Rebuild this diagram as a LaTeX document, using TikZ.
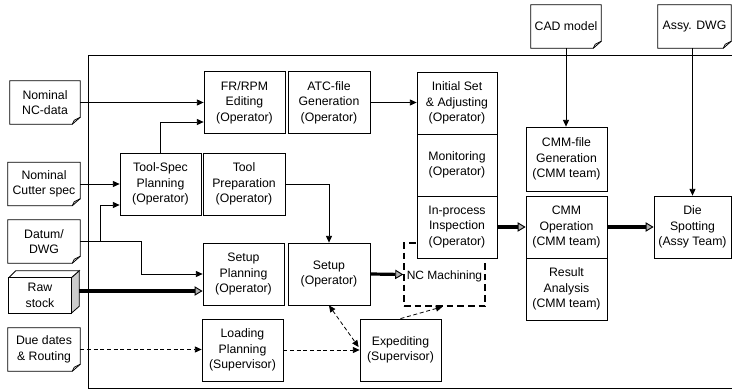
\documentclass[tikz,border=0pt]{standalone}
\usepackage{fontspec}
\setmainfont{Liberation Sans}
\usetikzlibrary{arrows.meta,calc}
\begin{document}
\begin{tikzpicture}[x=0.75pt,y=-0.75pt,
  every node/.style={font=\fontsize{9.2}{11.6}\selectfont},
  box/.style={draw, line width=0.6pt, fill=white, align=center, inner sep=0pt,
              minimum width=60.75pt, minimum height=46.5pt},
  doc/.style={align=center, inner sep=0pt, minimum width=54pt, minimum height=32.25pt},
  arr/.style={line width=0.6pt, -{Triangle[length=5pt,width=4.5pt]}},
  darr/.style={arr, dash pattern=on 3pt off 2pt},
  dbarr/.style={line width=0.6pt, dash pattern=on 3pt off 2pt,
                {Triangle[length=5pt,width=4.5pt]}-{Triangle[length=5pt,width=4.5pt]}},
  bigarr/.style={line width=2.4pt, -{Triangle[length=6pt,width=7pt,line width=0.7pt,fill=gray!60]}},
  ncbox/.style={draw, line width=1.1pt, dash pattern=on 5pt off 3pt, inner sep=0pt,
                minimum width=60.75pt, minimum height=47.25pt}
]
\useasboundingbox (0,0) rectangle (732,392);

% outer frame, open to the right
\draw[line width=0.6pt] (732,55) -- (88,55) -- (88,388) -- (732,388);

% input documents
\node[doc, minimum width=52.5pt] (ncd) at (45,102.5) {};
\node[doc] (cut) at (44,184) {};
\node[doc] (dat) at (44,241.5) {};
\node[doc] (due) at (44,349.5) {};
\node[doc, minimum width=52.5pt] (cad) at (566,26.5) {};
\node[doc, minimum width=54.75pt] (assy) at (694.5,26.5) {};
\foreach \n in {ncd,cut,dat,due,cad,assy}{
  \draw[line width=0.6pt, fill=white]
    (\n.north west) -- (\n.north east) -- ($(\n.south east)+(0,-7)$)
    -- ($(\n.south east)+(-8,0)$) -- (\n.south west) -- cycle;
  \draw[line width=0.6pt]
    ($(\n.south east)+(0,-7)$) -- ($(\n.south east)+(-6,-4)$) -- ($(\n.south east)+(-8,0)$);
}
\node[align=center] at (ncd) {Nominal\\NC-data};
\node[align=center] at (cut) {Nominal\\Cutter spec};
\node[align=center] at (dat) {Datum/\\DWG};
\node[align=center] at (due) {Due dates\\\& Routing};
\node[align=center] at (cad) {CAD model};
\node[align=center] at (assy) {Assy. DWG};

% raw stock block
\node[inner sep=0pt, minimum width=46.5pt, minimum height=26.25pt] (raw) at (40,295.5) {};
\draw[line width=0.6pt, fill=gray!40]
  (raw.north east) -- ($(raw.north east)+(8,-7)$) -- ($(raw.south east)+(8,-7)$) -- (raw.south east) -- cycle;
\draw[line width=0.6pt, fill=white]
  (raw.north west) -- ($(raw.north west)+(7,-7)$) -- ($(raw.north east)+(8,-7)$) -- (raw.north east) -- cycle;
\draw[line width=0.9pt, fill=white] (raw.north west) rectangle (raw.south east);
\node[align=center] at (raw) {Raw\\stock};
\coordinate (rawout) at ($(raw.east)+(8,-4.5)$);

% process boxes
\node[box] (fr)    at (244.5,102.5) {FR/RPM\\Editing\\(Operator)};
\node[box, minimum width=61.5pt] (atc) at (329,102.5) {ATC-file\\Generation\\(Operator)};
\node[box] (tsp)   at (160.5,184) {Tool-Spec\\Planning\\(Operator)};
\node[box, minimum width=61.5pt] (tprep) at (244,184) {Tool\\Preparation\\(Operator)};
\node[box] (splan) at (243.5,274) {Setup\\Planning\\(Operator)};
\node[box, minimum width=61.5pt] (setup) at (329,274) {Setup\\(Operator)};
\node[box] (load)  at (242.5,350) {Loading\\Planning\\(Supervisor)};
\node[box] (exp)   at (400.5,350) {Expediting\\(Supervisor)};

% machining area, partly covered by the inspection box
\node[ncbox] (nc) at (444.5,274.5) {};
\node[font=\fontsize{9}{11}\selectfont] at (444.5,276) {NC Machining};

\node[box, minimum width=60pt] (init) at (457,103) {Initial Set\\\& Adjusting\\(Operator)};
\node[box, minimum width=60pt] (mon)  at (457,165) {Monitoring\\(Operator)};
\node[box, minimum width=60pt] (insp) at (457,227) {In-process\\Inspection\\(Operator)};

\node[box, minimum height=48pt] (cmmf)  at (566.5,159) {CMM-file\\Generation\\(CMM team)};
\node[box] (cmmop) at (566.5,227) {CMM\\Operation\\(CMM team)};
\node[box] (res)   at (566.5,289) {Result\\Analysis\\(CMM team)};
\node[box, minimum width=57.75pt] (die) at (692.5,227) {Die\\Spotting\\(Assy Team)};

% junctions on the datum line
\coordinate (j1) at (100,241.5);
\coordinate (j2) at (141,241.5);

% connectors
\draw[arr] (ncd.east) -- (ncd.east -| fr.west);
\draw[arr] (cut.east) -- (tsp.west);
\draw[arr] (tsp.north) |- ($(fr.west)+(0,19.5)$);
\draw[line width=0.6pt] (dat.east) -- (j2);
\draw[arr] (j2) |- (splan.west);
\draw[arr] (j1) |- ($(tsp.west)+(0,21)$);
\draw[bigarr] (rawout) -- (rawout -| splan.west);
\draw[darr] (due.east) -- (due.east -| load.west);
\draw[darr] (load.east) -- (exp.west);
\draw[arr] (tprep.east) -| (setup.north);
\draw[arr] (atc.east) -- (atc.east -| init.west);
\draw[bigarr] (setup.east) -- (nc.west);
\draw[dbarr] (setup.south) -- ($(exp.west)+(-1,-3)$);
\draw[darr] (exp.north) -- ($(nc.south)+(-2,0)$);
\draw[bigarr] (insp.east) -- (cmmop.west);
\draw[bigarr] (cmmop.east) -- (die.west);
\draw[arr] (cad.south) -- (cad.south |- cmmf.north);
\draw[arr] (assy.south -| die.north) -- (die.north);
\end{tikzpicture}
\end{document}
